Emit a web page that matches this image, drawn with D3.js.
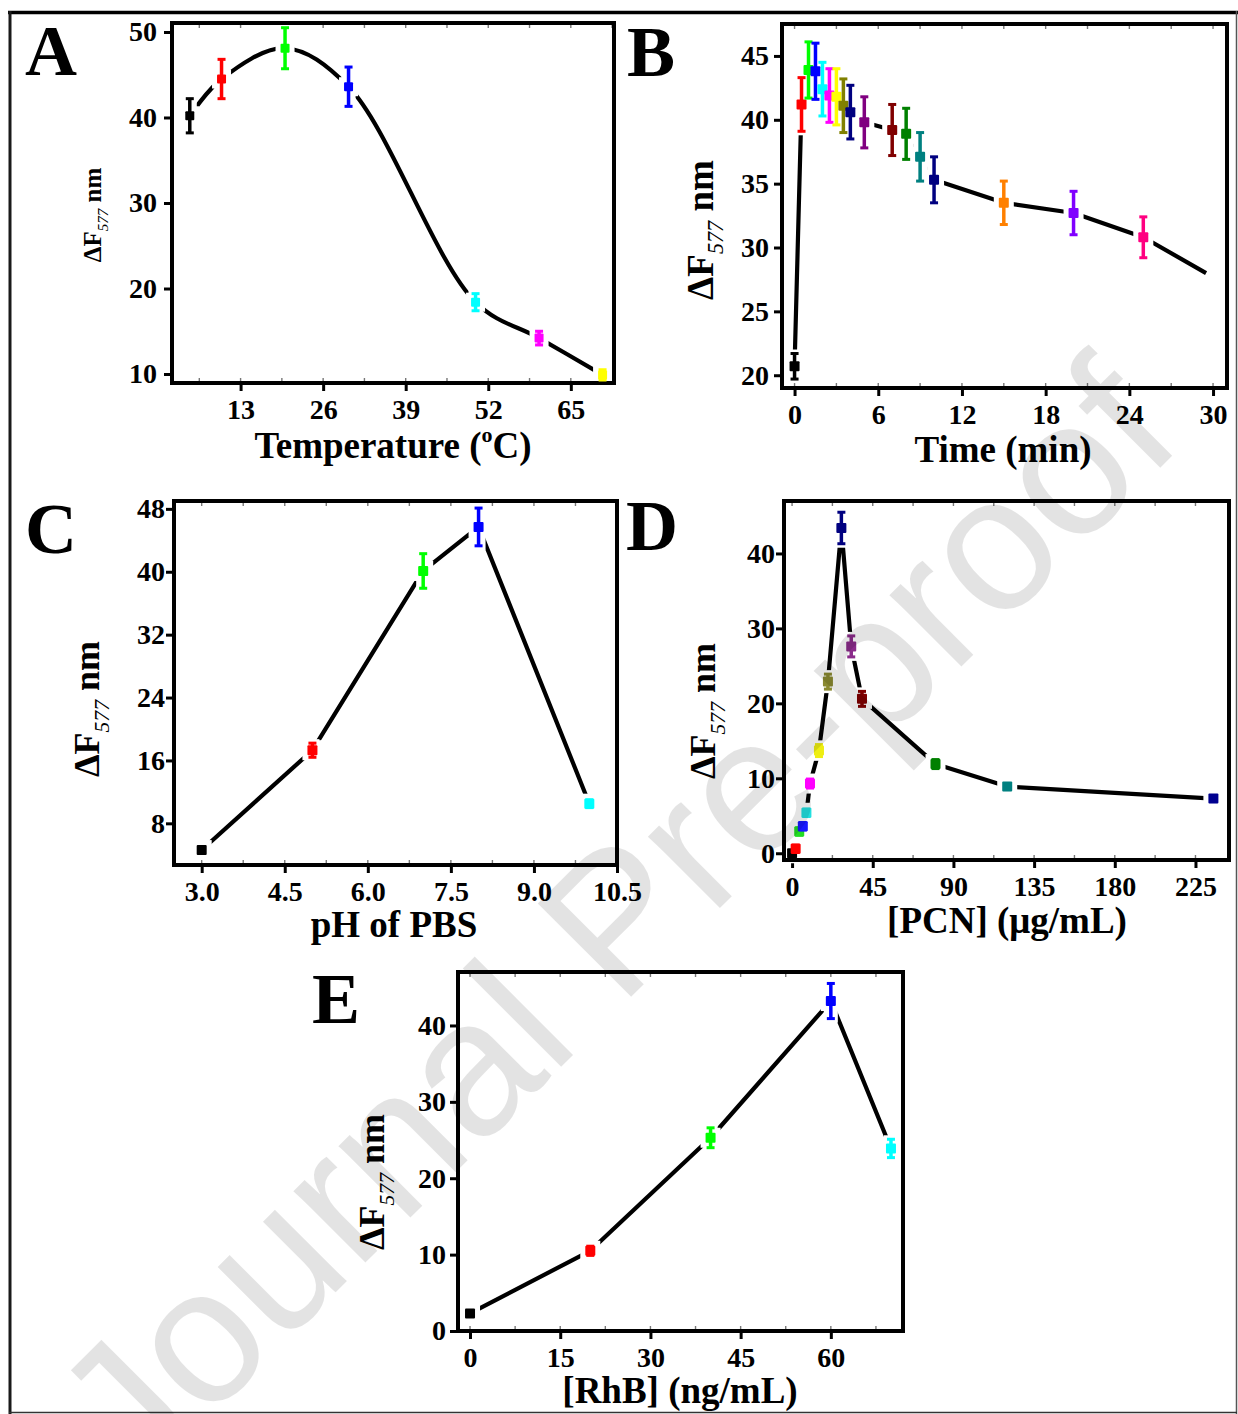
<!DOCTYPE html>
<html><head><meta charset="utf-8">
<script src="https://cdn.jsdelivr.net/npm/d3@7"></script>
<style>body{margin:0;background:#fff} svg{display:block}</style>
</head><body>
<svg id="c" width="1238" height="1414"></svg>
<script>
// ---------- DATA ----------
// Panel A: temperature
const tempC      = [5, 10, 20, 30, 50, 60, 70];
const tempDF     = [40.2, 44.5, 48.1, 43.6, 18.4, 14.2, 9.9];
const tempErr    = [2.0, 2.3, 2.4, 2.3, 1.0, 0.8, 0.6];
const tempColors = ["#000000","#ff0000","#00ff00","#0000ff","#00ffff","#ff00ff","#ffff00"];
const tempTicksX = [13, 26, 39, 52, 65];
const tempTicksY = [10, 20, 30, 40, 50];

// Panel B: time
const timeMin    = [0, 0.5, 1, 1.5, 2, 2.5, 3, 3.5, 4, 5, 7, 8, 9, 10, 15, 20, 25];
const timeDF     = [20.7, 41.2, 43.9, 43.8, 42.4, 41.9, 41.8, 41.1, 40.6, 39.8, 39.2, 38.9, 37.1, 35.3, 33.5, 32.7, 30.8];
const timeErr    = [1.0, 2.1, 2.2, 2.2, 2.1, 2.1, 2.2, 2.1, 2.1, 2.0, 2.0, 2.0, 1.9, 1.8, 1.7, 1.7, 1.6];
const timeColors = ["#000000","#ff0000","#00ff00","#0000ff","#00ffff","#ff00ff","#ffff00","#808000","#000080","#800080","#800000","#008000","#008080","#000080","#ff8000","#8000ff","#ff0080"];
const timeTailX  = [29.5];   // fitted line continues past last point
const timeTailY  = [28.0];
const timeTicksX = [0, 6, 12, 18, 24, 30];
const timeTicksY = [20, 25, 30, 35, 40, 45];

// Panel C: pH
const phVal      = [3, 5, 7, 8, 10];
const phDF       = [4.6, 17.3, 40.1, 45.7, 10.5];
const phErr      = [0.3, 0.9, 2.2, 2.4, 0.5];
const phColors   = ["#000000","#ff0000","#00ff00","#0000ff","#00ffff"];
const phTicksX   = [3.0, 4.5, 6.0, 7.5, 9.0, 10.5];
const phTicksY   = [8, 16, 24, 32, 40, 48];

// Panel D: PCN concentration
const pcnConc    = [0, 2, 4, 6, 8, 10, 15, 20, 27.5, 33, 39, 80, 120, 235];
const pcnDF      = [0, 0.6, 2.9, 3.6, 5.4, 9.3, 13.7, 22.9, 43.4, 27.6, 20.6, 11.9, 8.9, 7.3];
const pcnErr     = [0.3, 0.5, 0.5, 0.5, 0.5, 0.6, 0.8, 1.0, 2.1, 1.4, 1.0, 0.6, 0.4, 0.4];
const pcnColors  = ["#000000","#ff0000","#22dd22","#1a1aff","#22e0e0","#ff00ff","#eeee11","#8a8a30","#000080","#8b2b8b","#800000","#008000","#008080","#000090"];
const pcnTicksX  = [0, 45, 90, 135, 180, 225];
const pcnTicksY  = [0, 10, 20, 30, 40];

// Panel E: RhB concentration
const rhbConc    = [0, 20, 40, 60, 70];
const rhbDF      = [2.3, 10.5, 25.3, 43.2, 23.9];
const rhbErr     = [0.3, 0.6, 1.3, 2.3, 1.2];
const rhbColors  = ["#000000","#ff0000","#00ff00","#0000ff","#00ffff"];
const rhbTicksX  = [0, 15, 30, 45, 60];
const rhbTicksY  = [0, 10, 20, 30, 40];

// ---------- DRAWING ----------
const SERIF = "'Liberation Serif','Times New Roman',Times,serif";
const SANS  = "'Liberation Sans',Arial,Helvetica,sans-serif";
const svg = d3.select("#c");
svg.append("rect").attr("width",1238).attr("height",1414).attr("fill","#fff");

function panel(p) {
  const g = svg.append("g");
  const [L,T,R,B] = p.box;
  const x = d3.scaleLinear().domain(p.xDomain).range([L,R]);
  const y = d3.scaleLinear().domain(p.yDomain).range([B,T]);

  // minor ticks (inside, small)
  const step = p.xTicks[1]-p.xTicks[0];
  const minor = [];
  for (let v = p.xTicks[0]-step; v <= p.xDomain[1]+1e-9; v += step/2) if (v >= p.xDomain[0]) minor.push(v);
  const mg = g.append("g").attr("stroke","#777").attr("stroke-width",1.4);
  minor.forEach(v => {
    mg.append("line").attr("x1",x(v)).attr("x2",x(v)).attr("y1",B).attr("y2",B-5);
    mg.append("line").attr("x1",x(v)).attr("x2",x(v)).attr("y1",T).attr("y2",T+5);
  });

  // axes
  const xa = g.append("g").attr("transform",`translate(0,${B})`)
    .call(d3.axisBottom(x).tickValues(p.xTicks).tickFormat(p.xFmt).tickSize(8).tickPadding(p.xPad));
  const ya = g.append("g").attr("transform",`translate(${L},0)`)
    .call(d3.axisLeft(y).tickValues(p.yTicks).tickFormat(d3.format("d")).tickSize(8).tickPadding(p.yPad));
  [xa,ya].forEach(a => {
    a.select(".domain").remove();
    a.selectAll("line").attr("stroke","#000").attr("stroke-width",3);
    a.selectAll("text").attr("font-family",SERIF).attr("font-weight","bold")
      .attr("font-size",28).attr("fill","#000");
  });

  // connecting line
  const pts = p.lineX.map((d,i)=>[d,p.lineY[i]]);
  g.append("path")
    .attr("d", d3.line().x(d=>x(d[0])).y(d=>y(d[1])).curve(p.curve)(pts))
    .attr("fill","none").attr("stroke","#000").attr("stroke-width",4.2)
    .attr("stroke-linejoin","round");

  const data = p.xs.map((d,i)=>({x:d, y:p.ys[i], e:p.errs[i], c:p.colors[i]}));
  const s = p.msize;
  // white gaps around symbols (Origin style)
  const hal = g.append("g").attr("fill","#fff");
  data.forEach(d => {
    const cx = x(d.x), cy = y(d.y);
    hal.append("rect").attr("x",cx-s/2-5).attr("y",cy-s/2-5).attr("width",s+10).attr("height",s+10);
    const t = Math.min(y(d.y+d.e), cy-s/2), b = Math.max(y(d.y-d.e), cy+s/2);
    hal.append("rect").attr("x",cx-7).attr("y",t-4).attr("width",14).attr("height",b-t+8);
  });

  // frame
  g.append("rect").attr("x",L).attr("y",T).attr("width",R-L).attr("height",B-T)
    .attr("fill","none").attr("stroke","#000").attr("stroke-width",4);

  // symbols with error bars
  const mk = g.append("g");
  data.forEach(d => {
    const cx = x(d.x), cy = y(d.y), yt = y(d.y+d.e), yb = y(d.y-d.e);
    const q = mk.append("g").attr("fill",d.c).attr("stroke",d.c);
    q.append("line").attr("x1",cx).attr("x2",cx).attr("y1",yt).attr("y2",yb).attr("stroke-width",3.5);
    q.append("rect").attr("x",cx-4).attr("y",yt-1.5).attr("width",8).attr("height",3).attr("stroke","none");
    q.append("rect").attr("x",cx-4).attr("y",yb-1.5).attr("width",8).attr("height",3).attr("stroke","none");
    q.append("rect").attr("x",cx-s/2).attr("y",cy-s/2).attr("width",s).attr("height",s).attr("rx",1).attr("stroke","none");
  });

  // y title  ΔF577 nm
  const fs = p.yTitleSize;
  const yt = g.append("text").attr("transform",`translate(${p.yTitle[0]},${p.yTitle[1]}) rotate(-90)`)
    .attr("text-anchor","middle").attr("font-family",SERIF).attr("fill","#000");
  yt.append("tspan").attr("font-weight","bold").attr("font-size",fs).text("ΔF");
  yt.append("tspan").attr("font-style","italic").attr("font-size",fs*0.6).attr("dy",fs*0.28).text("577");
  yt.append("tspan").attr("font-weight","bold").attr("font-size",fs).attr("dy",-fs*0.28).text(" nm");

  // x title
  const xt = g.append("text").attr("x",p.xTitle[0]).attr("y",p.xTitle[1]).attr("text-anchor","middle")
    .attr("font-family",SERIF).attr("font-weight","bold").attr("font-size",37).attr("fill","#000");
  p.xTitleParts.forEach(t => {
    const ts = xt.append("tspan").text(t.s);
    if (t.sup) ts.attr("font-size",22).attr("dy",-16);
    if (t.back) ts.attr("dy",16);
  });

  // panel letter
  g.append("text").attr("x",p.letter[1]).attr("y",p.letter[2]).attr("font-family",SERIF)
    .attr("font-weight","bold").attr("font-size",72).attr("fill","#000").text(p.letter[0]);
}

const fmtInt = d3.format("d"), fmt1 = d3.format(".1f");

panel({box:[172,23,614,383], xDomain:[2.2,71.8], yDomain:[8.95,51.05],
  xTicks:tempTicksX, yTicks:tempTicksY, xFmt:fmtInt, xPad:8, yPad:7,
  xs:tempC, ys:tempDF, errs:tempErr, colors:tempColors,
  lineX:tempC, lineY:tempDF, curve:d3.curveCatmullRom.alpha(0.5), msize:9,
  yTitle:[101,215], yTitleSize:25, xTitle:[393,458],
  xTitleParts:[{s:"Temperature ("},{s:"o",sup:true},{s:"C)",back:true}],
  letter:["A",25,75]});

panel({box:[782,24,1227,388], xDomain:[-0.9,31], yDomain:[19,47.5],
  xTicks:timeTicksX, yTicks:timeTicksY, xFmt:fmtInt, xPad:8, yPad:5,
  xs:timeMin, ys:timeDF, errs:timeErr, colors:timeColors,
  lineX:timeMin.concat(timeTailX), lineY:timeDF.concat(timeTailY),
  curve:d3.curveLinear, msize:10,
  yTitle:[713,230], yTitleSize:37, xTitle:[1003,462],
  xTitleParts:[{s:"Time (min)"}], letter:["B",627,76]});

panel({box:[174,501,617,865], xDomain:[2.5,10.5], yDomain:[2.7,49],
  xTicks:phTicksX, yTicks:phTicksY, xFmt:fmt1, xPad:8, yPad:1,
  xs:phVal, ys:phDF, errs:phErr, colors:phColors,
  lineX:phVal, lineY:phDF, curve:d3.curveLinear, msize:10,
  yTitle:[99,709], yTitleSize:36, xTitle:[394,937],
  xTitleParts:[{s:"pH of PBS"}], letter:["C",25,553]});

panel({box:[784,501,1229,860], xDomain:[-4.5,243.7], yDomain:[-0.9,47],
  xTicks:pcnTicksX, yTicks:pcnTicksY, xFmt:fmtInt, xPad:8, yPad:1,
  xs:pcnConc, ys:pcnDF, errs:pcnErr, colors:pcnColors,
  lineX:pcnConc, lineY:pcnDF, curve:d3.curveLinear, msize:10,
  yTitle:[715,711], yTitleSize:36, xTitle:[1007,933],
  xTitleParts:[{s:"[PCN] (μg/mL)"}], letter:["D",626,550]});

panel({box:[458,972,903,1331], xDomain:[-2,72], yDomain:[0,47],
  xTicks:rhbTicksX, yTicks:rhbTicksY, xFmt:fmtInt, xPad:8, yPad:4,
  xs:rhbConc, ys:rhbDF, errs:rhbErr, colors:rhbColors,
  lineX:rhbConc, lineY:rhbDF, curve:d3.curveLinear, msize:10,
  yTitle:[384,1182], yTitleSize:36, xTitle:[680,1403],
  xTitleParts:[{s:"[RhB] (ng/mL)"}], letter:["E",312,1023]});

// outer figure frame
svg.append("line").attr("x1",8).attr("x2",1238).attr("y1",12.5).attr("y2",12.5).attr("stroke","#000").attr("stroke-width",3.5);
svg.append("line").attr("x1",10).attr("x2",10).attr("y1",11).attr("y2",1414).attr("stroke","#1a1a1a").attr("stroke-width",3);
svg.append("line").attr("x1",1236.5).attr("x2",1236.5).attr("y1",11).attr("y2",1414).attr("stroke","#555").attr("stroke-width",1.5);
svg.append("line").attr("x1",9).attr("x2",1237).attr("y1",1412.5).attr("y2",1412.5).attr("stroke","#333").attr("stroke-width",1.5);

// watermark
svg.append("text").attr("transform","translate(137,1491) rotate(-45)")
  .attr("font-family",SANS).attr("font-size",192).attr("fill","#000").attr("fill-opacity",0.11)
  .text("Journal Pre-proof");
</script>
</body></html>
